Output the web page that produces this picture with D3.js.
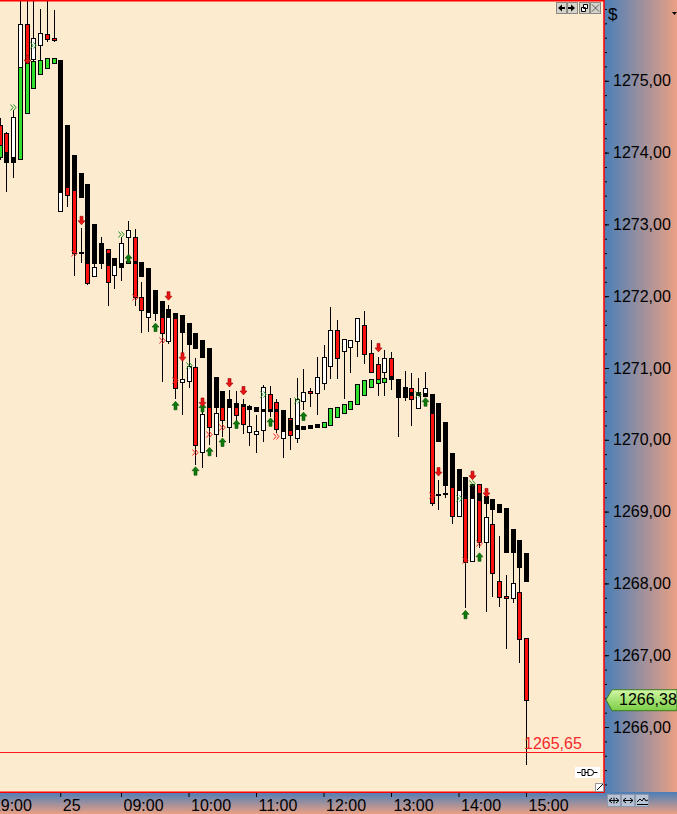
<!DOCTYPE html>
<html>
<head>
<meta charset="utf-8">
<script src="https://cdnjs.cloudflare.com/ajax/libs/d3/7.8.5/d3.min.js"></script>
<style>
    html, body { margin: 0; padding: 0; background: #fdebd0; }
    svg { display: block; font-family: "Liberation Sans", Arial, sans-serif; }
</style>
</head>
<body>
<div id="chart"></div>
<script>
// bars, one per 6 minute slot (slot 0 is at the left edge)
const opens = [
    1274.38, 1274.27, 1273.94, 1275.19, 1275.79, 1275.30, 1275.50, 1275.65, 1275.60, 1273.19,
    1273.69, 1273.90, 1272.60, 1272.64, 1272.28, 1272.56, 1272.66, 1272.30, 1272.41, 1272.82,
    1272.82, 1271.99, 1271.71, 1271.79, 1271.71, 1271.38, 1271.70, 1270.81, 1270.82, 1271.01,
    1269.83, 1270.55, 1270.08, 1270.48, 1270.18, 1270.51, 1270.48, 1270.11, 1270.08, 1270.14,
    1270.64, 1270.53, 1270.03, 1270.30, 1270.03, 1270.54, 1270.68, 1270.65, 1270.79, 1271.03,
    1271.53, 1271.24, 1271.29, 1271.38, 1271.60, 1271.21, 1271.06, 1270.94, 1271.14, 1270.69,
    1270.67, 1270.72, 1270.44, 1270.61, 1270.37, 1269.23, 1269.25, 1269.34, 1268.94, 1269.19,
    1268.31, 1269.38, 1268.58, 1268.83, 1268.03, 1267.82, 1267.80, 1267.88, 1267.24
];
const highs = [
    1274.48, 1274.29, 1274.59, 1276.26, 1276.26, 1276.20, 1276.00, 1276.11, 1275.99, 1273.45,
    1273.73, 1273.97, 1272.95, 1272.64, 1272.46, 1272.82, 1272.66, 1272.53, 1272.82, 1273.05,
    1272.94, 1272.20, 1271.95, 1272.09, 1271.88, 1271.88, 1271.77, 1271.67, 1271.33, 1271.14,
    1270.55, 1270.62, 1270.48, 1270.62, 1270.69, 1270.68, 1270.57, 1270.48, 1270.35, 1270.76,
    1270.75, 1270.57, 1270.35, 1270.58, 1270.86, 1270.99, 1270.72, 1271.15, 1271.32, 1271.85,
    1271.67, 1271.40, 1271.39, 1271.70, 1271.79, 1271.39, 1271.15, 1271.25, 1271.22, 1270.85,
    1270.96, 1270.93, 1270.86, 1270.94, 1270.64, 1269.44, 1269.37, 1269.34, 1269.30, 1269.19,
    1269.19, 1269.38, 1269.12, 1269.04, 1268.66, 1268.12, 1268.44, 1268.23, 1267.24
];
const lows = [
    1273.90, 1273.45, 1273.65, 1273.91, 1274.55, 1274.90, 1275.09, 1275.54, 1275.54, 1273.17,
    1273.24, 1272.28, 1272.46, 1272.16, 1272.28, 1272.38, 1271.86, 1272.10, 1272.21, 1272.57,
    1271.86, 1271.49, 1271.50, 1271.65, 1270.81, 1271.33, 1270.57, 1270.35, 1270.72, 1269.65,
    1269.61, 1269.93, 1269.76, 1270.04, 1269.96, 1270.25, 1270.08, 1269.91, 1269.82, 1269.97,
    1270.32, 1270.09, 1269.75, 1269.86, 1269.96, 1270.42, 1270.46, 1270.35, 1270.69, 1270.85,
    1270.85, 1270.57, 1270.93, 1271.15, 1271.06, 1270.94, 1270.61, 1270.61, 1270.69, 1270.04,
    1270.54, 1270.19, 1270.44, 1270.61, 1269.08, 1269.02, 1269.19, 1268.83, 1268.94, 1267.66,
    1268.30, 1268.49, 1267.60, 1267.81, 1267.67, 1267.09, 1267.73, 1266.89, 1265.47
];
const closes = [
    1274.11, 1274.01, 1274.50, 1275.79, 1275.25, 1275.60, 1275.67, 1275.58, 1275.57, 1273.45,
    1273.41, 1272.60, 1272.60, 1272.18, 1272.41, 1272.64, 1272.20, 1272.43, 1272.74, 1272.92,
    1271.99, 1271.81, 1271.78, 1271.84, 1271.49, 1271.71, 1270.72, 1270.85, 1271.03, 1269.93,
    1270.36, 1270.18, 1270.37, 1270.28, 1270.46, 1270.35, 1270.22, 1270.19, 1270.12, 1270.74,
    1270.43, 1270.15, 1270.12, 1270.07, 1270.57, 1270.67, 1270.65, 1270.87, 1271.15, 1271.53,
    1271.14, 1271.40, 1271.39, 1271.70, 1271.20, 1270.94, 1270.79, 1271.14, 1270.85, 1270.69,
    1270.67, 1270.57, 1270.65, 1270.72, 1269.12, 1269.23, 1269.25, 1268.94, 1269.30, 1268.30,
    1269.19, 1268.58, 1268.92, 1268.14, 1267.81, 1267.80, 1268.01, 1267.23, 1266.38
];
// smoothed (heikin-ashi like) bodies drawn over the bars
const haOpens = [
    1273.94, 1274.01, 1273.94, 1273.91, 1274.55, 1274.90, 1275.09, 1275.18, 1275.25, 1275.29,
    1274.38, 1273.97, 1273.72, 1273.56, 1273.01, 1272.74, 1272.60, 1272.53, 1272.46, 1272.46,
    1272.49, 1272.48, 1272.39, 1272.09, 1271.93, 1271.82, 1271.77, 1271.74, 1271.63, 1271.49,
    1271.39, 1271.28, 1270.87, 1270.68, 1270.57, 1270.51, 1270.50, 1270.47, 1270.46, 1270.43,
    1270.43, 1270.43, 1270.42, 1270.28, 1270.21, 1270.19, 1270.21, 1270.22, 1270.18, 1270.21,
    1270.32, 1270.37, 1270.43, 1270.50, 1270.62, 1270.74, 1270.79, 1270.81, 1270.89, 1270.85,
    1270.74, 1270.67, 1270.67, 1270.65, 1270.64, 1270.51, 1270.25, 1269.82, 1269.59, 1269.48,
    1269.38, 1269.26, 1269.22, 1269.18, 1269.11, 1269.05, 1268.76, 1268.60, 1268.42
];
const haCloses = [
    1274.11, 1273.87, 1273.87, 1275.19, 1275.25, 1275.28, 1275.29, 1275.32, 1275.32, 1273.45,
    1273.52, 1273.48, 1273.38, 1272.46, 1272.46, 1272.46, 1272.43, 1272.43, 1272.41, 1272.49,
    1272.46, 1272.28, 1271.78, 1271.77, 1271.71, 1271.71, 1271.70, 1271.50, 1271.33, 1271.28,
    1271.15, 1270.46, 1270.46, 1270.46, 1270.46, 1270.46, 1270.47, 1270.43, 1270.40, 1270.40,
    1270.40, 1270.40, 1270.12, 1270.14, 1270.15, 1270.15, 1270.16, 1270.18, 1270.25, 1270.44,
    1270.46, 1270.50, 1270.54, 1270.78, 1270.83, 1270.85, 1270.85, 1270.86, 1270.85, 1270.60,
    1270.60, 1270.62, 1270.62, 1270.61, 1270.37, 1269.98, 1269.37, 1269.34, 1269.30, 1269.19,
    1269.19, 1269.16, 1269.12, 1269.04, 1268.99, 1268.44, 1268.44, 1268.23, 1268.03
];

// signal markers
const upArrowSlots = [19, 23, 26, 29, 30, 31, 33, 35, 40, 45, 63, 69, 71];
const upArrowPrices = [1272.53, 1271.57, 1270.48, 1269.57, 1270.45, 1269.84, 1269.97, 1270.22, 1270.25, 1270.33, 1270.53, 1267.57, 1268.37];
const downArrowSlots = [4, 12, 25, 27, 30, 34, 36, 56, 65, 70, 72];
const downArrowPrices = [1275.29, 1273.05, 1272.00, 1271.15, 1270.52, 1270.79, 1270.68, 1271.28, 1269.55, 1269.50, 1269.26];
const greenChevronSlots = [2, 5, 18, 28, 39, 44, 62, 68, 70];
const greenChevronPrices = [1274.63, 1275.50, 1272.87, 1271.04, 1270.64, 1270.55, 1270.64, 1269.19, 1269.40];
const redChevronSlots = [11, 20, 24, 26, 29, 31, 33, 41, 64, 69, 71];
const redChevronPrices = [1272.60, 1271.99, 1271.39, 1270.83, 1269.83, 1270.08, 1270.18, 1270.05, 1269.23, 1268.33, 1268.56];

// axes
const xTickSlots = [-1.5, 9, 18, 28, 38, 48, 58, 68, 78];
const xTickLabels = ['19:00', '25', '09:00', '10:00', '11:00', '12:00', '13:00', '14:00', '15:00'];
const yTicks = [1266, 1267, 1268, 1269, 1270, 1271, 1272, 1273, 1274, 1275];
const lastPrice = 1266.38;
const alertLevel = 1265.65;

class CandleChart {

    constructor(sel) {
        this.width = 677;
        this.height = 814;
        this.plotW = 604;
        this.plotH = 792;
        this.svg = d3.select(sel).append('svg')
            .attr('width', this.width)
            .attr('height', this.height);
        this.x = d3.scaleLinear().domain([0, 78]).range([-0.5, 526]);
        this.y = d3.scaleLinear().domain([1265.095, 1276.125]).range([this.plotH, 0]);
        this.fmt = d => d3.format('.2f')(d).replace('.', ',');
        this.initiate();
        this.drawCandles();
        this.drawMarkers();
        this.drawAxes();
        this.drawDecor();
    }

    initiate() {
        let self = this;
        let defs = self.svg.append('defs');
        let h = defs.append('linearGradient').attr('id', 'axisH')
            .attr('x1', 0).attr('y1', 0).attr('x2', 1).attr('y2', 0);
        h.append('stop').attr('offset', '0%').attr('stop-color', '#4a7fb8');
        h.append('stop').attr('offset', '100%').attr('stop-color', '#eaa084');
        let v = defs.append('linearGradient').attr('id', 'axisV')
            .attr('x1', 0).attr('y1', 0).attr('x2', 0).attr('y2', 1);
        v.append('stop').attr('offset', '0%').attr('stop-color', '#4a7fb8');
        v.append('stop').attr('offset', '100%').attr('stop-color', '#eaa084');
        let tag = defs.append('linearGradient').attr('id', 'tagG')
            .attr('x1', 0).attr('y1', 0).attr('x2', 0).attr('y2', 1);
        tag.append('stop').attr('offset', '0%').attr('stop-color', '#d2f7a4');
        tag.append('stop').attr('offset', '100%').attr('stop-color', '#7acd45');
        defs.append('clipPath').attr('id', 'plotClip')
            .append('rect').attr('x', 0).attr('y', 0)
            .attr('width', self.plotW).attr('height', self.plotH);

        self.svg.append('rect')
            .attr('width', self.plotW).attr('height', self.plotH)
            .attr('fill', '#fdebd0');
        self.svg.append('rect')
            .attr('x', self.plotW).attr('y', 0)
            .attr('width', self.width - self.plotW).attr('height', self.plotH)
            .attr('fill', 'url(#axisH)');
        self.svg.append('rect')
            .attr('x', 0).attr('y', self.plotH)
            .attr('width', self.width).attr('height', self.height - self.plotH)
            .attr('fill', 'url(#axisV)');

        self.plot = self.svg.append('g').attr('clip-path', 'url(#plotClip)');
    }

    drawCandles() {
        let self = this;
        let bars = d3.range(opens.length).map(i => ({
            i: i, o: opens[i], h: highs[i], l: lows[i], c: closes[i],
            ho: haOpens[i], hc: haCloses[i]
        }));
        let cx = d => Math.round(self.x(d.i));
        let g = self.plot.append('g').attr('shape-rendering', 'crispEdges');

        g.selectAll('.wick')
            .data(bars)
            .enter()
            .append('line')
            .attr('class', 'wick')
            .attr('x1', d => cx(d) + 0.5)
            .attr('x2', d => cx(d) + 0.5)
            .attr('y1', d => self.y(d.h))
            .attr('y2', d => self.y(d.l))
            .attr('stroke', '#000');

        let body = (sel, o, c, fill) => {
            sel.attr('x', d => cx(d) - 1.5)
                .attr('width', 4)
                .attr('y', d => {
                    let t = Math.round(Math.min(self.y(o(d)), self.y(c(d))));
                    return o(d) === c(d) ? t - 0.5 : t + 0.5;
                })
                .attr('height', d => {
                    let t = Math.round(Math.min(self.y(o(d)), self.y(c(d))));
                    let b = Math.round(Math.max(self.y(o(d)), self.y(c(d))));
                    return Math.max(1, b - t);
                })
                .attr('fill', fill)
                .attr('stroke', '#000');
        };

        g.selectAll('.body')
            .data(bars)
            .enter()
            .append('rect')
            .attr('class', 'body')
            .call(body, d => d.o, d => d.c,
                d => d.c > d.o ? '#ffffff' : d.c < d.o ? '#ff1010' : '#000');

        g.selectAll('.ha')
            .data(bars)
            .enter()
            .append('rect')
            .attr('class', 'ha')
            .call(body, d => d.ho, d => d.hc,
                d => d.hc > d.ho ? '#2fe02f' : '#000');
    }

    drawMarkers() {
        let self = this;
        let g = self.plot.append('g');
        let px = s => Math.round(self.x(s)) + 0.5;

        let up = upArrowSlots.map((s, i) => ({s: s, p: upArrowPrices[i]}));
        let down = downArrowSlots.map((s, i) => ({s: s, p: downArrowPrices[i]}));
        let gc = greenChevronSlots.map((s, i) => ({s: s, p: greenChevronPrices[i]}));
        let rc = redChevronSlots.map((s, i) => ({s: s, p: redChevronPrices[i]}));

        g.selectAll('.upArrow')
            .data(up)
            .enter()
            .append('path')
            .attr('class', 'upArrow')
            .attr('d', d => {
                let x = px(d.s), y = self.y(d.p);
                return `M${x - 1.5},${y + 4.5}L${x + 1.5},${y + 4.5}L${x + 1.5},${y}L${x + 3.5},${y}`
                    + `L${x},${y - 4}L${x - 3.5},${y}L${x - 1.5},${y}Z`;
            })
            .attr('fill', '#0d7a0d')
            .attr('stroke', '#045004')
            .attr('stroke-width', 0.6);

        g.selectAll('.downArrow')
            .data(down)
            .enter()
            .append('path')
            .attr('class', 'downArrow')
            .attr('d', d => {
                let x = px(d.s), y = self.y(d.p);
                return `M${x - 1.5},${y - 4.5}L${x + 1.5},${y - 4.5}L${x + 1.5},${y}L${x + 3.5},${y}`
                    + `L${x},${y + 4}L${x - 3.5},${y}L${x - 1.5},${y}Z`;
            })
            .attr('fill', '#e81414')
            .attr('stroke', '#a00000')
            .attr('stroke-width', 0.6);

        let chevron = d => {
            let x = px(d.s) - 3, y = Math.round(self.y(d.p)) + 0.5;
            return `M${x},${y - 3}l2.5,3l-2.5,3M${x + 3},${y - 3}l2.5,3l-2.5,3`;
        };
        g.selectAll('.gChev')
            .data(gc)
            .enter()
            .append('path')
            .attr('class', 'gChev')
            .attr('d', chevron)
            .attr('fill', 'none')
            .attr('stroke', '#1f8f1f')
            .attr('stroke-width', 1);
        g.selectAll('.rChev')
            .data(rc)
            .enter()
            .append('path')
            .attr('class', 'rChev')
            .attr('d', chevron)
            .attr('fill', 'none')
            .attr('stroke', '#f02020')
            .attr('stroke-width', 1);

        // alert level
        let ya = Math.round(self.y(alertLevel)) + 0.5;
        self.plot.append('line')
            .attr('x1', 0).attr('x2', self.plotW)
            .attr('y1', ya).attr('y2', ya)
            .attr('stroke', '#ff1a1a')
            .attr('stroke-width', 1);
        self.svg.append('text')
            .text(self.fmt(alertLevel))
            .attr('x', 524)
            .attr('y', ya - 4)
            .style('font-size', '16px')
            .style('fill', '#f42a2a');
    }

    drawAxes() {
        let self = this;
        let yAxis = d3.axisRight(self.y)
            .tickValues(yTicks)
            .tickSize(4)
            .tickFormat(self.fmt);
        let yg = self.svg.append('g')
            .attr('transform', `translate(${self.plotW + 1}, 0)`)
            .call(yAxis);
        yg.select('.domain').remove();
        yg.selectAll('text')
            .attr('x', 8)
            .style('font-size', '16px')
            .style('fill', '#000');

        let minor = d3.range(1265.2, 1276.01, 0.2);
        let mg = self.svg.append('g')
            .attr('transform', `translate(${self.plotW + 1}, 0)`)
            .call(d3.axisRight(self.y).tickValues(minor).tickSize(2).tickFormat(''));
        mg.select('.domain').remove();

        let xAxis = d3.axisBottom(self.x)
            .tickValues(xTickSlots)
            .tickSize(4)
            .tickFormat((d, i) => xTickLabels[i]);
        let xg = self.svg.append('g')
            .attr('transform', `translate(0, ${self.plotH + 1})`)
            .call(xAxis);
        xg.select('.domain').remove();
        xg.selectAll('text')
            .attr('x', 2)
            .style('text-anchor', 'start')
            .style('font-size', '16px')
            .style('fill', '#000');
    }

    drawDecor() {
        let self = this;
        // frame of the price pane
        self.svg.append('path')
            .attr('d', `M0,0.75H${self.plotW}V${self.plotH + 0.25}H0`)
            .attr('fill', 'none')
            .attr('stroke', '#ff0000')
            .attr('stroke-width', 1.5);

        self.svg.append('text')
            .text('$')
            .attr('x', 608)
            .attr('y', 20)
            .style('font-size', '17px');
        self.svg.append('path')
            .attr('d', 'M672,12h5l-2.5,3z')
            .attr('fill', '#000');

        // last price tag
        let yl = self.y(lastPrice);
        self.svg.append('path')
            .attr('d', `M606,${yl}L612,${yl - 10}H677V${yl + 11}H612Z`)
            .attr('fill', 'url(#tagG)')
            .attr('stroke', '#3d7a22')
            .attr('stroke-width', 1);
        self.svg.append('text')
            .text(self.fmt(lastPrice))
            .attr('x', 619)
            .attr('y', yl)
            .attr('dy', '0.36em')
            .style('font-size', '16px');

        // pane buttons, top right
        let btnX = [556, 567, 579, 590];
        self.svg.selectAll('.btn')
            .data(btnX)
            .enter()
            .append('rect')
            .attr('class', 'btn')
            .attr('x', d => d + 0.5)
            .attr('y', 2.5)
            .attr('width', 10)
            .attr('height', 11)
            .attr('fill', '#d6d3cc')
            .attr('stroke', '#8a8882');
        self.svg.append('path')
            .attr('d', 'M558,8l4,-3.5v2.5h3v2h-3v2.5z')
            .attr('fill', '#000');
        self.svg.append('path')
            .attr('d', 'M575,8l-4,-3.5v2.5h-3v2h3v2.5z')
            .attr('fill', '#000');
        self.svg.append('path')
            .attr('d', 'M583.5,4.5h4v4h-4zM581.5,7.5h4v4h-4z')
            .attr('fill', '#fff')
            .attr('stroke', '#000')
            .attr('stroke-width', 1);
        self.svg.append('path')
            .attr('d', 'M592,4.5l7,7M599,4.5l-7,7')
            .attr('stroke', '#555')
            .attr('stroke-width', 1);

        // connector icon and resize grip, bottom right of the pane
        self.svg.append('rect')
            .attr('x', 575).attr('y', 767)
            .attr('width', 25).attr('height', 11)
            .attr('fill', '#fff');
        self.svg.append('path')
            .attr('d', 'M577,772.5h4M585,769.5h-3v6h3zM588,769.5h2.5a3,3 0 0 1 0,6h-2.5zM593.5,772.5h4M585,772.5h3')
            .attr('fill', 'none')
            .attr('stroke', '#000')
            .attr('stroke-width', 1);
        self.svg.append('rect')
            .attr('x', 595.5).attr('y', 783.5)
            .attr('width', 8).attr('height', 8)
            .attr('fill', '#fff')
            .attr('stroke', '#999');
        self.svg.append('path')
            .attr('d', 'M597,790l6,-6')
            .attr('stroke', '#000');

        // scale buttons, bottom right corner
        let sbX = [607, 621, 635];
        self.svg.selectAll('.sbtn')
            .data(sbX)
            .enter()
            .append('rect')
            .attr('class', 'sbtn')
            .attr('x', d => d + 0.5)
            .attr('y', 794.5)
            .attr('width', 13)
            .attr('height', 12)
            .attr('fill', '#b9c3d6')
            .attr('stroke', '#8d98ad');
        self.svg.append('path')
            .attr('d', 'M609,800.5h10M609,800.5l3,-2.5M609,800.5l3,2.5M619,800.5l-3,-2.5M619,800.5l-3,2.5M614,797.5v6'
                + 'M623,800.5h10M623,800.5l3,-2.5M623,800.5l3,2.5M633,800.5l-3,-2.5M633,800.5l-3,2.5'
                + 'M637,802l3,-3l2,2l2,-3l2,3l2,-1M637,804.5h11')
            .attr('fill', 'none')
            .attr('stroke', '#000')
            .attr('stroke-width', 1);
    }

}

new CandleChart('#chart');
</script>
</body>
</html>
